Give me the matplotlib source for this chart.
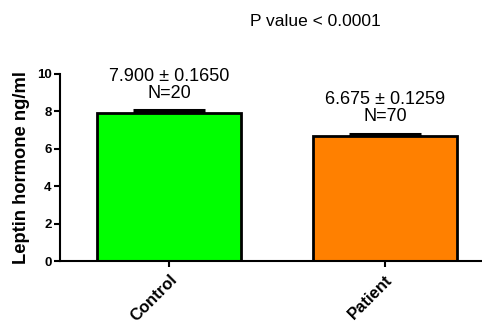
import numpy as np
import matplotlib.pyplot as plt

plt.rcParams['font.family'] = ['Liberation Sans', 'DejaVu Sans']

# data
groups = ["Control", "Patient"]
means = [7.900, 6.675]
sems = [0.1650, 0.1259]
counts = [20, 70]
colors = ["#00FF00", "#FF8000"]
p_text = "P value < 0.0001"

fig = plt.figure(figsize=(4.82, 3.26), dpi=100)
ax = fig.add_axes([60/482, 65/326, 422/482, 187/326])

x = np.arange(len(groups))
ax.bar(x, means, width=0.667, color=colors, edgecolor="black", linewidth=2, zorder=2)
# only the upper half of the SEM bar shows above the bar
ax.errorbar(x, means, yerr=[[0, 0], sems], fmt="none", ecolor="black", elinewidth=2,
            capsize=26, capthick=2.2, zorder=1)

for xi, m, s, n in zip(x, means, sems, counts):
    ax.text(xi, m + 0.62, f"{m:.3f} \u00b1 {s:.4f}\nN={n}", ha="center", va="bottom",
            fontsize=13, linespacing=1.0)

ax.set_xlim(-0.505, 1.449)
ax.set_ylim(0, 10)
ax.set_yticks([0, 2, 4, 6, 8, 10])
ax.set_xticks(x)
ax.set_xticklabels(groups, rotation=45, ha="right", rotation_mode="anchor",
                   fontweight="bold", fontsize=12)
for lbl in ax.get_yticklabels():
    lbl.set_fontweight("bold")
    lbl.set_fontsize(9.5)
ax.tick_params(axis="both", width=1.5, length=4, pad=2)
ax.tick_params(axis="x", pad=4)
ax.set_ylabel("Leptin hormone ng/ml", fontweight="bold", fontsize=13.2, labelpad=5)

for side in ["top", "right"]:
    ax.spines[side].set_visible(False)
ax.spines["left"].set_linewidth(1.5)
ax.spines["bottom"].set_linewidth(1.5)

fig.text(315/482, 1 - 21/326, p_text, ha="center", va="center", fontsize=12.5)

fig.savefig("out.png", dpi=100)
